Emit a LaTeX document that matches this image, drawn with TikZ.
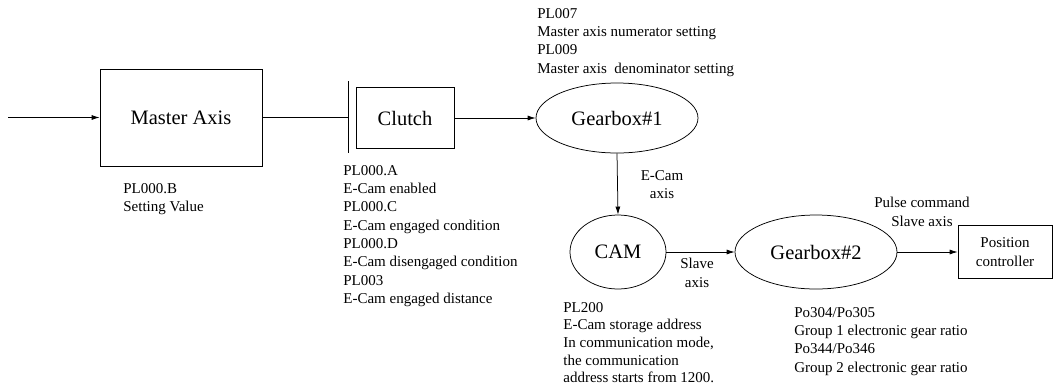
\documentclass[tikz,border=0pt]{standalone}
\usepackage{fontspec}
\setmainfont{Liberation Serif}
\usetikzlibrary{shapes.geometric,arrows.meta}
\begin{document}
\begin{tikzpicture}[x=1pt,y=-1pt,
  line width=0.75pt,
  bigfont/.style={font=\fontsize{20.5}{24}\selectfont},
  smallfont/.style={font=\fontsize{15}{18.3}\selectfont},
  boxnode/.style={draw,rectangle,inner sep=0pt,bigfont},
  ellnode/.style={draw,ellipse,inner sep=0pt,bigfont},
  infotext/.style={anchor=north west,align=left,inner sep=0pt,smallfont},
  edgetext/.style={anchor=north,align=center,inner sep=0pt,smallfont},
  arr/.style={-{Latex[length=8pt,width=5pt]}}
]
\useasboundingbox (0,0) rectangle (1054,389);

% nodes
\coordinate (start) at (8,117.5);
\node[boxnode,minimum width=162pt,minimum height=97pt] (master) at (181,117.5) {Master Axis};
\coordinate (bartop) at (348,81);
\coordinate (barbot) at (348,153);
\coordinate (barmid) at (348,117.5);
\node[boxnode,minimum width=98pt,minimum height=61pt] (clutch) at (405,118) {Clutch};
\node[ellnode,minimum width=162pt,minimum height=70pt] (gb1) at (617,118) {Gearbox\#1};
\node[ellnode,minimum width=96pt,minimum height=74pt] (cam) at (618,252) {CAM};
\node[ellnode,minimum width=162pt,minimum height=74pt] (gb2) at (816,252) {Gearbox\#2};
\node[draw,rectangle,inner sep=0pt,minimum width=94pt,minimum height=53pt,align=center,smallfont] (pos) at (1005,252) {Position\\controller};

% connectors
\draw[arr] (start) -- (master.west);
\draw (master.east) -- (barmid);
\draw (bartop) -- (barbot);
\draw[arr] (clutch.east) -- (gb1.west);
\draw[arr] (gb1.south) -- (cam.north);
\draw[arr] (cam.east) -- (gb2.west);
\draw[arr] (gb2.east) -- (pos.west);

% texts
\node[infotext] (t1) at (537,8) {PL007\\Master axis numerator setting\\PL009\\Master axis\ \ denominator setting};
\node[infotext] (t2) at (123,183) {PL000.B\\Setting Value};
\node[infotext] (t3) at (343,165) {PL000.A\\E-Cam enabled\\PL000.C\\E-Cam engaged condition\\PL000.D\\E-Cam disengaged condition\\PL003\\E-Cam engaged distance};
\node[infotext,font=\fontsize{15}{17.6}\selectfont] (t4) at (563,302) {PL200\\E-Cam storage address\\In communication mode,\\the communication\\address starts from 1200.};
\node[infotext] (t5) at (794,307) {Po304/Po305\\Group 1 electronic gear ratio\\Po344/Po346\\Group 2 electronic gear ratio};
\node[edgetext] (l1) at (662,170) {E-Cam\\axis};
\node[edgetext] (l2) at (697,258) {Slave\\axis};
\node[edgetext] (l3) at (922,197) {Pulse command\\Slave axis};
\end{tikzpicture}
\end{document}
